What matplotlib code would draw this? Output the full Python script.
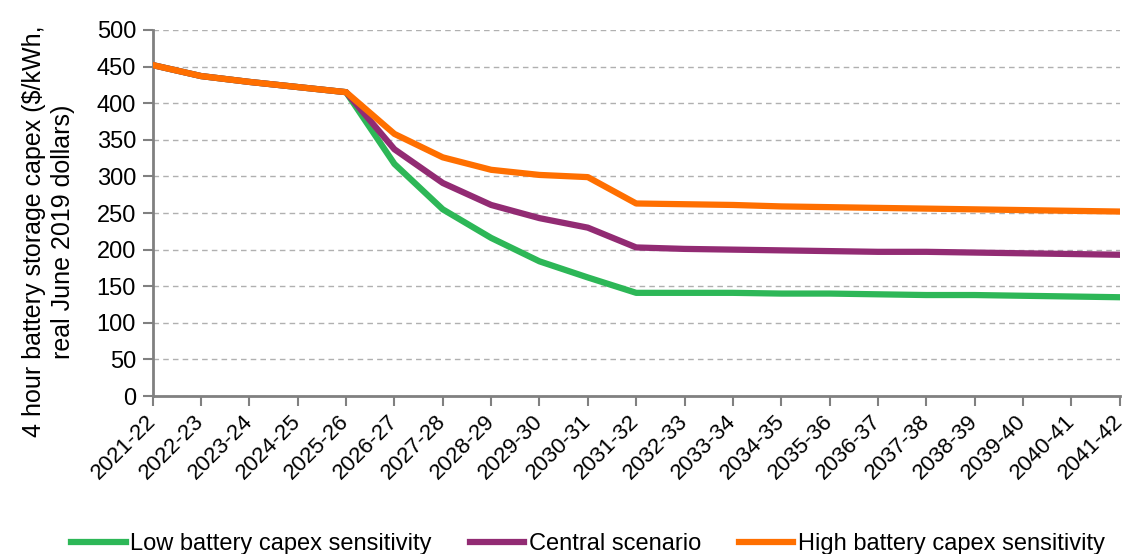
import matplotlib.pyplot as plt

years = ['2021-22', '2022-23', '2023-24', '2024-25', '2025-26', '2026-27', '2027-28',
         '2028-29', '2029-30', '2030-31', '2031-32', '2032-33', '2033-34', '2034-35',
         '2035-36', '2036-37', '2037-38', '2038-39', '2039-40', '2040-41', '2041-42']

low = [452, 437, 429, 422, 415, 317, 255, 216, 184, 162, 141, 141, 141, 140, 140,
       139, 138, 138, 137, 136, 135]
central = [452, 437, 429, 422, 415, 337, 291, 261, 243, 230, 203, 201, 200, 199, 198,
           197, 197, 196, 195, 194, 193]
high = [452, 437, 429, 422, 415, 358, 326, 309, 302, 299, 263, 262, 261, 259, 258,
        257, 256, 255, 254, 253, 252]

plt.rcParams['font.family'] = ['Liberation Sans', 'DejaVu Sans']

fig = plt.figure(figsize=(11.31, 5.54), dpi=100)
ax = fig.add_axes([0.135, 0.285, 0.855, 0.661])

x = range(len(years))
ax.plot(x, low, color='#2db757', lw=4.5, label='Low battery capex sensitivity', zorder=3)
ax.plot(x, central, color='#922b73', lw=4.5, label='Central scenario', zorder=4)
ax.plot(x, high, color='#ff6f00', lw=4.5, label='High battery capex sensitivity', zorder=5)

ax.set_ylim(0, 500)
ax.set_xlim(0, len(years) - 1)
ax.set_yticks(range(0, 501, 50))
ax.set_xticks(list(x))
ax.set_xticklabels(years, rotation=45, ha='right', va='center', rotation_mode='anchor',
                   fontsize=16)
ax.tick_params(axis='y', labelsize=17)

ax.grid(axis='y', color='#b0b0b0', ls=(0, (4, 3)), lw=1)
ax.set_axisbelow(True)
for s in ['top', 'right']:
    ax.spines[s].set_visible(False)
for s in ['left', 'bottom']:
    ax.spines[s].set_color('#808080')
    ax.spines[s].set_linewidth(2)
ax.tick_params(axis='both', color='#808080', width=1.5, length=7)
ax.tick_params(axis='x', pad=9)
ax.tick_params(axis='y', pad=5)

ax.set_ylabel('4 hour battery storage capex ($/kWh,\nreal June 2019 dollars)',
              fontsize=18, linespacing=1.3)
ax.yaxis.set_label_coords(-0.08, 0.45)

fig.legend(loc='lower center', bbox_to_anchor=(0.52, -0.04), ncol=3, frameon=False,
           fontsize=17, handlelength=2.3, columnspacing=1.6, handletextpad=0.2)

fig.savefig('out.png', dpi=100)
